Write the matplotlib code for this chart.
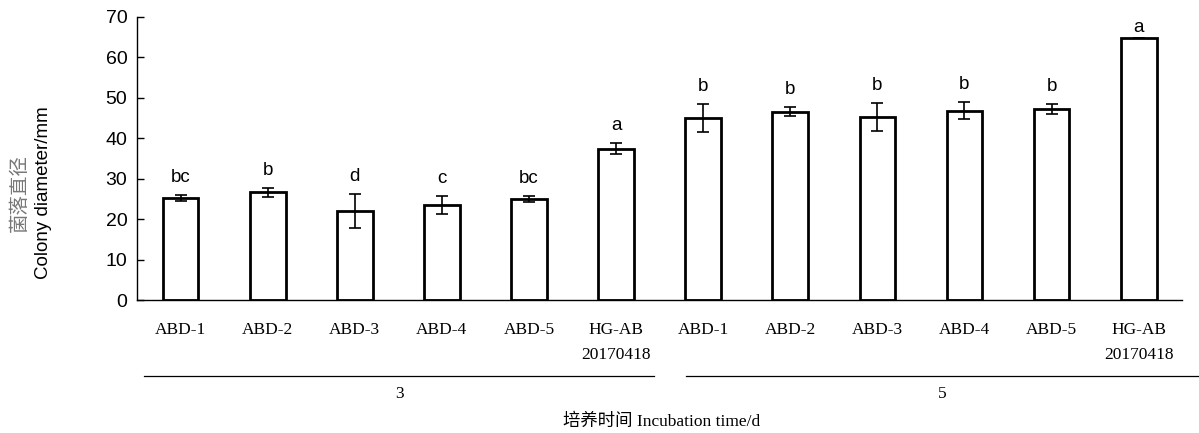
import numpy as np
import matplotlib.pyplot as plt
from matplotlib.lines import Line2D
from matplotlib.transforms import blended_transform_factory

# 数据
strains = ['ABD-1', 'ABD-2', 'ABD-3', 'ABD-4', 'ABD-5', 'HG-AB\n20170418']
days = ['3', '5']
diam_d3 = [25.2, 26.7, 22.0, 23.5, 25.0, 37.4]
err_d3 = [0.7, 1.1, 4.2, 2.2, 0.8, 1.4]
diam_d5 = [45.0, 46.6, 45.3, 46.8, 47.3, 64.8]
err_d5 = [3.5, 1.1, 3.5, 2.1, 1.2, 0.0]
letters_d3 = ['bc', 'b', 'd', 'c', 'bc', 'a']
letters_d5 = ['b', 'b', 'b', 'b', 'b', 'a']

values = diam_d3 + diam_d5
errors = err_d3 + err_d5
letters = letters_d3 + letters_d5
labels = strains * len(days)
x = np.arange(len(values))

fig = plt.figure(figsize=(11.99, 4.33), dpi=100)
ax = fig.add_axes([0.1143, 0.307, 0.8717, 0.654])

ax.bar(x, values, width=0.41, color='white', edgecolor='black', linewidth=2.0, zorder=2)
ax.errorbar(x, values, yerr=errors, fmt='none', ecolor='black', elinewidth=1.2,
            capsize=4.5, capthick=1.2, zorder=3)

# 显著性字母
for xi, v, e, lt in zip(x, values, errors, letters):
    off = 6.5 if e > 0 else 1.5
    ax.annotate(lt, (xi, v + e), xytext=(0, off), textcoords='offset points',
                ha='center', va='bottom', fontsize=13.5, family='Liberation Sans')

ax.set_xlim(-0.5, len(values) - 0.5)
ax.set_ylim(0, 70)
ax.set_yticks(np.arange(0, 71, 10))
ax.tick_params(axis='y', direction='in', length=5, width=1, labelsize=14, pad=7)
for t in ax.get_yticklabels():
    t.set_family('Liberation Sans')
ax.set_xticks(x)
ax.set_xticklabels(labels, family='Liberation Serif', fontsize=12.5, linespacing=1.75)
ax.tick_params(axis='x', length=0, pad=16)
for t in ax.get_xticklabels():
    t.set_verticalalignment('top')

ax.spines['top'].set_visible(False)
ax.spines['right'].set_visible(False)
ax.spines['left'].set_linewidth(1)
ax.spines['bottom'].set_linewidth(1)

# 分组线和分组标签
trans = blended_transform_factory(ax.transData, fig.transFigure)
n = len(strains)
gaps = [(0.08, 0.06), (0.30, -0.20)]
for g, day in enumerate(days):
    start = g * n - 0.5 + gaps[g][0]
    end = (g + 1) * n - 0.5 - gaps[g][1]
    fig.add_artist(Line2D([start, end], [1 - 376 / 433] * 2, transform=trans,
                          color='black', linewidth=0.9))
    ax.text((start + end) / 2, 1 - 394 / 433, day, transform=trans,
            ha='center', va='center', fontsize=12.5, family='Liberation Serif')

fig.text(0.552, 1 - 422 / 433, '培养时间 Incubation time/d', ha='center', va='center',
         fontsize=12.5, family=['Liberation Serif', 'Noto Sans CJK SC'])

fig.text(0.016, 0.554, '菌落直径', rotation=90, ha='center', va='center',
         fontsize=14, color='#777777', family=['Noto Sans CJK SC', 'DejaVu Sans'])
fig.text(0.036, 0.554, 'Colony diameter/mm', rotation=90, ha='center', va='center',
         fontsize=13.5, family='Liberation Sans')

fig.savefig('out.png', dpi=100)
